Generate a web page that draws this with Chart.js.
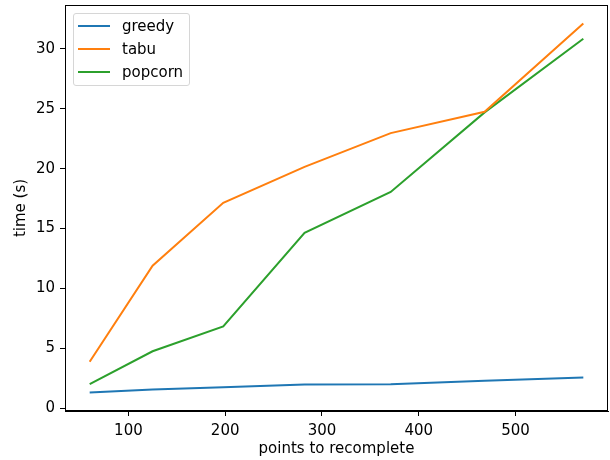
<!DOCTYPE html>
<html>
<head>
<meta charset="utf-8">
<script src="https://cdn.jsdelivr.net/npm/chart.js@4"></script>
<style>
  body { margin: 0; background: #fff; }
  #wrap { position: relative; width: 610px; height: 460px; }
  #legend {
    position: absolute; left: 73px; top: 13px;
    border: 1px solid #d6d6d6; border-radius: 3px; background: rgba(255,255,255,0.8);
    padding: 0px 6px 2px 4px;
    font-family: "DejaVu Sans", sans-serif; font-size: 15px; color: #000;
  }
  .item { display: flex; align-items: center; height: 23px; }
  .swatch { width: 32px; height: 2px; margin-right: 12px; }
</style>
</head>
<body>
<div id="wrap">
  <canvas id="chart" width="610" height="460"></canvas>
  <div id="legend"></div>
</div>
<script>
// values
const points = [60, 125, 198, 282, 371, 468, 570];
const greedy = [1.30, 1.56, 1.74, 1.98, 2.00, 2.28, 2.55];
const tabu = [3.87, 11.9, 17.15, 20.15, 22.97, 24.75, 32.13];
const popcorn = [2.0, 4.75, 6.82, 14.65, 18.05, 24.7, 30.85];

const xTicks = [100, 200, 300, 400, 500];
const yTicks = [0, 5, 10, 15, 20, 25, 30];

const names = ['greedy', 'tabu', 'popcorn'];
const colors = ['#1f77b4', '#ff7f0e', '#2ca02c'];
const series = [greedy, tabu, popcorn];

const font = { family: 'DejaVu Sans', size: 15 };

// border round the whole plot area, like matplotlib spines
const frame = {
  id: 'frame',
  afterDraw(chart) {
    const a = chart.chartArea, ctx = chart.ctx;
    ctx.save();
    ctx.strokeStyle = '#000';
    ctx.lineWidth = 1;
    ctx.strokeRect(a.left + 0.5, a.top + 0.5, a.right - a.left - 1, a.bottom - a.top - 1);
    ctx.restore();
  }
};

const chart = new Chart(document.getElementById('chart'), {
  type: 'line',
  data: {
    datasets: names.map((n, i) => ({
      label: n,
      data: points.map((x, j) => ({ x: x, y: series[i][j] })),
      borderColor: colors[i],
      backgroundColor: colors[i],
      borderWidth: 2,
      pointRadius: 0,
      tension: 0
    }))
  },
  options: {
    responsive: false,
    animation: false,
    layout: { padding: { top: 5, right: 2, left: 0, bottom: 0 } },
    plugins: { legend: { display: false }, tooltip: { enabled: false } },
    scales: {
      x: {
        type: 'linear',
        min: 34.5, max: 595.5,
        afterBuildTicks: s => { s.ticks = xTicks.map(v => ({ value: v })); },
        afterFit: s => { s.height = 49; s.paddingLeft = 0; s.paddingRight = 0; },
        ticks: { color: '#000', font: font, padding: 6, maxRotation: 0 },
        grid: { drawOnChartArea: false, drawTicks: true, tickLength: 5, color: '#000' },
        border: { display: true, color: '#000' },
        title: { display: true, text: 'points to recomplete', color: '#000', font: font, padding: { top: 0, bottom: 2 } }
      },
      y: {
        type: 'linear',
        min: -0.24, max: 33.67,
        afterBuildTicks: s => { s.ticks = yTicks.map(v => ({ value: v })); },
        afterFit: s => { s.width = 65; s.paddingTop = 0; s.paddingBottom = 0; },
        ticks: { color: '#000', font: font, padding: 5 },
        grid: { drawOnChartArea: false, drawTicks: true, tickLength: 5, color: '#000' },
        border: { display: true, color: '#000' },
        title: { display: true, text: 'time (s)', color: '#000', font: font, padding: { top: 12, bottom: 0 } }
      }
    }
  },
  plugins: [frame]
});

const legend = document.getElementById('legend');
chart.data.datasets.forEach(ds => {
  const row = document.createElement('div');
  row.className = 'item';
  row.innerHTML = `<span class="swatch" style="background:${ds.borderColor}"></span><span>${ds.label}</span>`;
  legend.appendChild(row);
});
</script>
</body>
</html>
